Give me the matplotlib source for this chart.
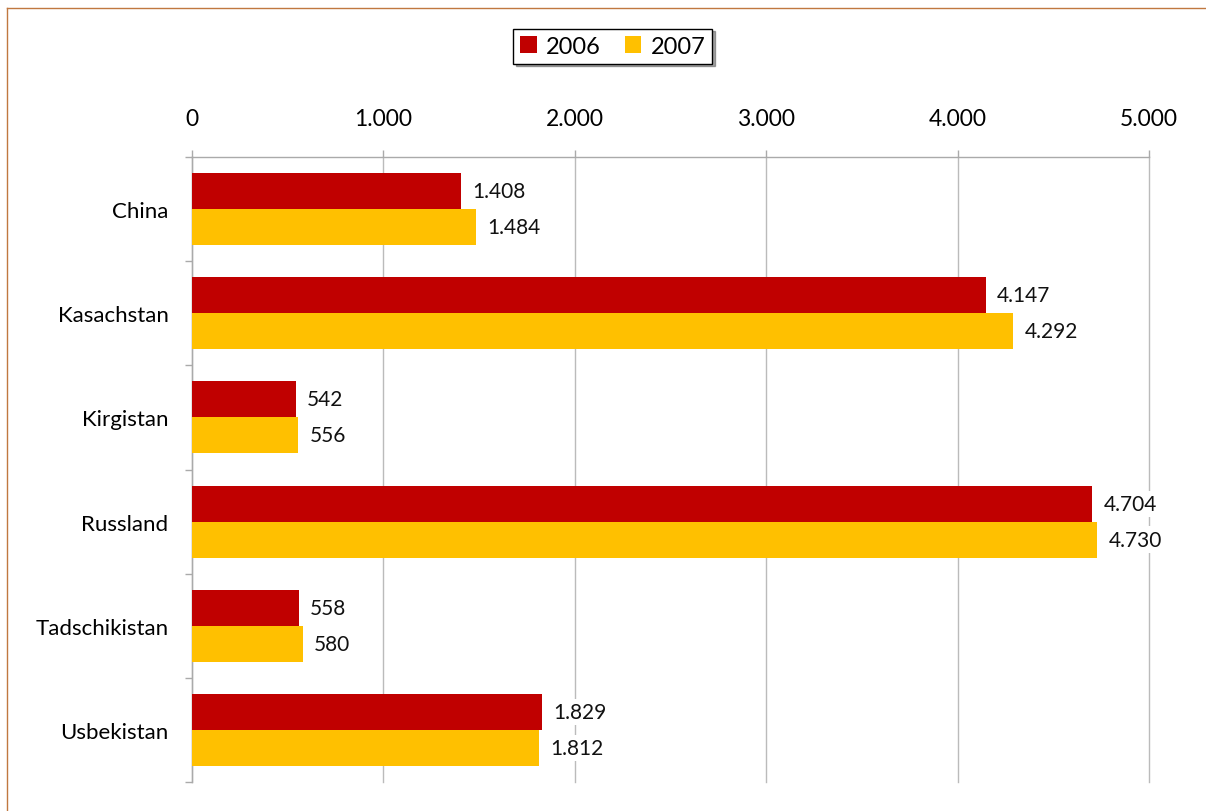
import numpy as np
import matplotlib.pyplot as plt
from matplotlib.lines import Line2D

# Daten
laender = ['China', 'Kasachstan', 'Kirgistan', 'Russland', 'Tadschikistan', 'Usbekistan']
werte_2006 = [1408, 4147, 542, 4704, 558, 1829]
werte_2007 = [1484, 4292, 556, 4730, 580, 1812]
jahre = ['2006', '2007']
farben = ['#C00000', '#FFC000']
x_ticks = [0, 1000, 2000, 3000, 4000, 5000]


def fmt(v):
    # deutsches Tausendertrennzeichen
    return f'{v:,}'.replace(',', '.')


plt.rcParams['font.family'] = ['Lato', 'DejaVu Sans']

fig = plt.figure(figsize=(12.06, 8.12), dpi=100)
ax = fig.add_axes([0.1592, 0.0357, 0.7935, 0.7697])

y = np.arange(len(laender))
h = 0.345
b1 = ax.barh(y - h / 2, werte_2006, height=h, color=farben[0], label=jahre[0], zorder=3)
b2 = ax.barh(y + h / 2, werte_2007, height=h, color=farben[1], label=jahre[1], zorder=3)

for bars, werte in [(b1, werte_2006), (b2, werte_2007)]:
    for bar, v in zip(bars, werte):
        ax.annotate(fmt(v), (v, bar.get_y() + bar.get_height() / 2),
                    xytext=(8, 0), textcoords='offset points', va='center', ha='left',
                    fontsize=15, color='#111111', zorder=4,
                    bbox=dict(boxstyle='square,pad=0.15', fc='white', ec='none'))

ax.set_xlim(0, 5000)
ax.set_ylim(len(laender) - 0.5, -0.5)
ax.xaxis.tick_top()
ax.set_xticks(x_ticks)
ax.set_xticklabels([fmt(t) for t in x_ticks], fontsize=16.5)
ax.tick_params(axis='x', length=5, width=1, color='#aaaaaa', pad=15)
ax.grid(axis='x', color='#bbbbbb', linewidth=1, zorder=0)
for gl in ax.get_xgridlines():
    gl.set_clip_on(False)

ax.set_yticks(y)
ax.set_yticklabels(laender, fontsize=16)
ax.tick_params(axis='y', which='major', length=0, pad=17)
ax.set_yticks(np.arange(-0.5, len(laender)), minor=True)
ax.tick_params(axis='y', which='minor', length=5, width=1, color='#aaaaaa')

for s in ['right', 'bottom']:
    ax.spines[s].set_visible(False)
for s in ['top', 'left']:
    ax.spines[s].set_color('#aaaaaa')
    ax.spines[s].set_linewidth(1)

fig.legend(loc='center', bbox_to_anchor=(0.508, 0.942), ncol=2, fontsize=17,
           frameon=True, fancybox=False, shadow=True, edgecolor='black',
           handlelength=0.7, handleheight=0.7, handletextpad=0.4, columnspacing=1.0,
           borderpad=0.3)

# Rahmen oben und links
fig.add_artist(Line2D([0.0058, 1.0], [0.989, 0.989], transform=fig.transFigure,
                      color='#C07840', linewidth=1))
fig.add_artist(Line2D([0.0058, 0.0058], [0.0, 0.989], transform=fig.transFigure,
                      color='#C07840', linewidth=1))

fig.savefig('out.png', dpi=100)
